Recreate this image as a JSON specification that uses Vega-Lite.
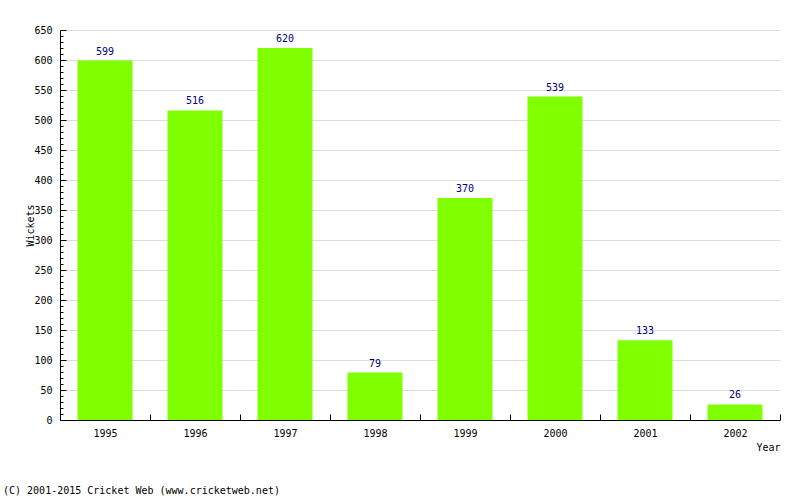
{
  "$schema": "https://vega.github.io/schema/vega-lite/v6.json",
  "autosize": "none",
  "width": 720,
  "height": 390,
  "padding": {"left": 60, "top": 30, "right": 20, "bottom": 80},
  "background": "white",
  "config": {
    "view": {"stroke": null},
    "font": "DejaVu Sans Mono",
    "axis": {"labelFont": "DejaVu Sans Mono", "titleFont": "DejaVu Sans Mono", "labelFontSize": 10, "titleFontSize": 10, "titleFontWeight": "normal", "labelColor": "black", "titleColor": "black", "domainColor": "black", "tickColor": "black"}
  },
  "title": {
    "text": "(C) 2001-2015 Cricket Web (www.cricketweb.net)",
    "orient": "bottom",
    "anchor": "start",
    "frame": "group",
    "font": "DejaVu Sans Mono",
    "fontSize": 10,
    "fontWeight": "normal",
    "color": "black",
    "dx": -57,
    "offset": 34
  },
  "data": {
    "values": [
      {"Year": "1995", "Wickets": 599},
      {"Year": "1996", "Wickets": 516},
      {"Year": "1997", "Wickets": 620},
      {"Year": "1998", "Wickets": 79},
      {"Year": "1999", "Wickets": 370},
      {"Year": "2000", "Wickets": 539},
      {"Year": "2001", "Wickets": 133},
      {"Year": "2002", "Wickets": 26}
    ]
  },
  "encoding": {
    "x": {
      "field": "Year", "type": "ordinal",
      "scale": {"paddingInner": 0, "paddingOuter": 0},
      "axis": {"labelAngle": 0, "tickBand": "extent", "tickSize": -6, "labelPadding": 14, "title": "Year", "titleAnchor": null, "titleX": 720, "titleY": 30, "titleAlign": "right", "titleBaseline": "alphabetic", "domainColor": "black"}
    }
  },
  "layer": [
    {
      "mark": {"type": "bar", "color": "#80ff00", "width": {"band": 0.611}},
      "encoding": {
        "y": {
          "field": "Wickets", "type": "quantitative",
          "scale": {"domain": [0, 650], "nice": false},
          "axis": {"orient": "left", "values": [0,50,100,150,200,250,300,350,400,450,500,550,600,650], "tickSize": -6, "labelPadding": 14, "grid": true, "gridColor": "#dddddd", "title": "Wickets", "titleX": -30, "titleY": 195, "titleAngle": -90, "titleAlign": "center", "titleBaseline": "middle"}
        }
      }
    },
    {
      "mark": {"type": "bar", "opacity": 0},
      "encoding": {
        "y": {
          "field": "Wickets", "type": "quantitative",
          "scale": {"domain": [0, 650], "nice": false},
          "axis": {"orient": "left", "values": [10,20,30,40,60,70,80,90,110,120,130,140,160,170,180,190,210,220,230,240,260,270,280,290,310,320,330,340,360,370,380,390,410,420,430,440,460,470,480,490,510,520,530,540,560,570,580,590,610,620,630,640], "tickSize": -3, "labels": false, "domain": false, "grid": false, "title": null}
        }
      }
    },
    {
      "mark": {"type": "text", "color": "#000080", "dy": -6, "baseline": "alphabetic", "fontSize": 10, "font": "DejaVu Sans Mono"},
      "encoding": {
        "y": {"field": "Wickets", "type": "quantitative", "scale": {"domain": [0, 650], "nice": false}, "axis": null},
        "text": {"field": "Wickets", "type": "quantitative"}
      }
    }
  ],
  "resolve": {"axis": {"y": "independent"}}
}
